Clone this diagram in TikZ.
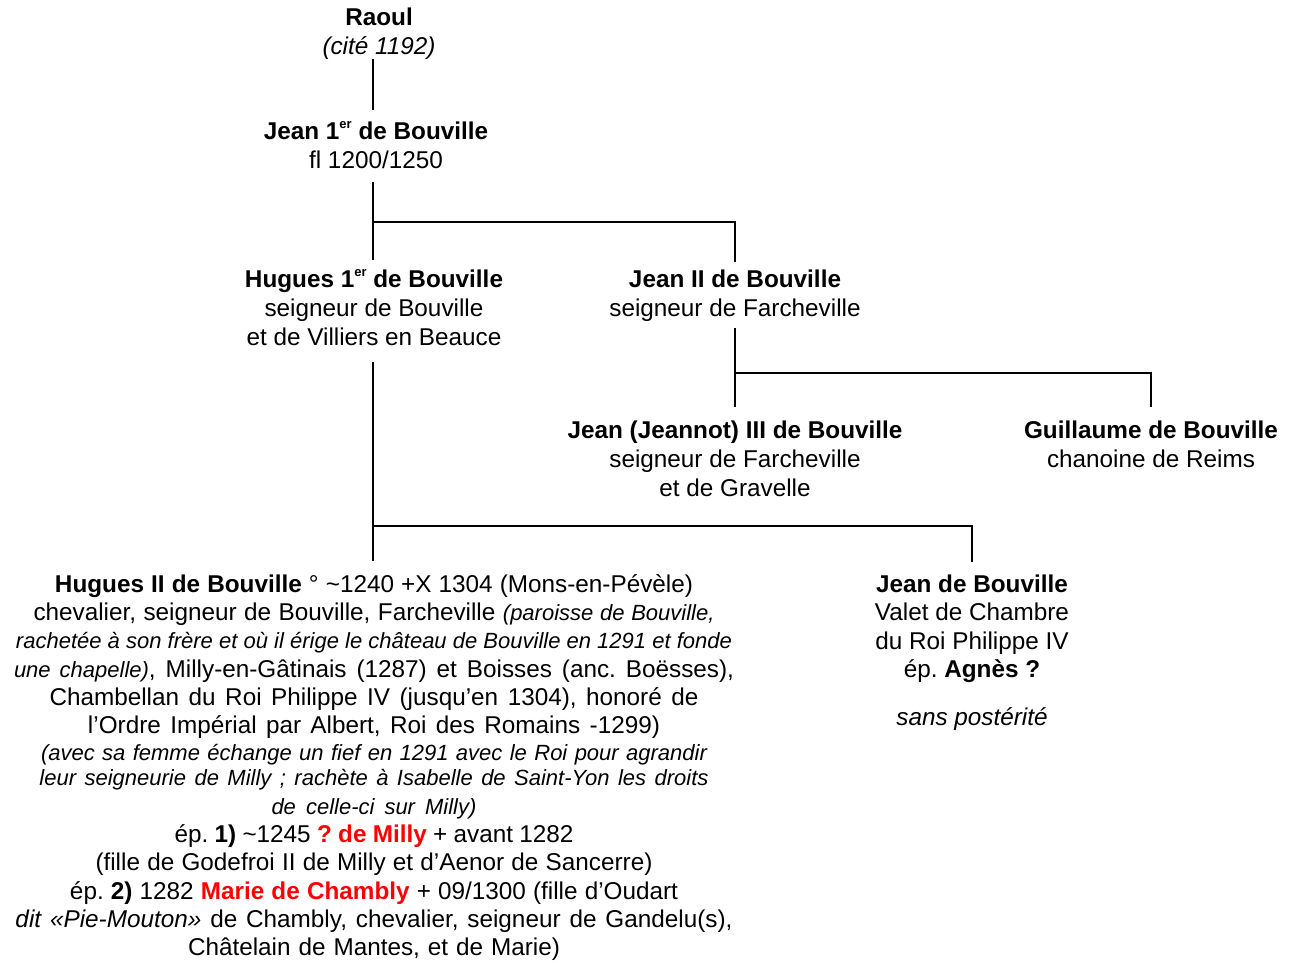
\documentclass[tikz,border=0pt]{standalone}
\usepackage{fontspec}
\setmainfont{Liberation Sans}
\definecolor{nred}{RGB}{255,0,0}
\newcommand{\nfont}{\fontsize{24.3}{29}\selectfont\frenchspacing}
\newcommand{\hfontb}{\fontsize{24.3}{28.35}\selectfont\frenchspacing}
\newcommand{\jfont}{\fontsize{24.3}{28.5}\selectfont\frenchspacing}
\newcommand{\sit}{\fontsize{22}{25}\selectfont\itshape}
\newcommand{\Lj}[2]{\makebox[#1pt][s]{\spaceskip=0pt\xspaceskip=0pt\frenchspacing #2}}
\newcommand{\sups}[1]{\raisebox{10.3pt}{\fontsize{13}{13}\selectfont #1}}
\tikzset{
  person/.style={align=flush center, inner sep=0pt, outer sep=0pt, anchor=base, font=\nfont, text width=#1},
  person/.default=420pt,
  conn/.style={line width=2pt},
}
\begin{document}
\begin{tikzpicture}[x=1pt,y=-1pt]
\useasboundingbox (0,0) rectangle (1300,962);
% nodes
\node[person] (raoul) at (379,25) {\textbf{Raoul}\\\textit{(cité 1192)}};
\node[person] (jean1) at (376,139) {\textbf{Jean 1\sups{er} de Bouville}\\fl 1200/1250};
\node[person] (hugues1) at (374,287) {\textbf{Hugues 1\sups{er} de Bouville}\\seigneur de Bouville\\et de Villiers en Beauce};
\node[person] (jean2) at (735,287) {\textbf{Jean II de Bouville}\\seigneur de Farcheville};
\node[person] (jean3) at (735,438) {\textbf{Jean (Jeannot) III de Bouville}\\seigneur de Farcheville\\et de Gravelle};
\node[person] (guill) at (1151,438) {\textbf{Guillaume de Bouville}\\chanoine de Reims};
\node[person=740pt, font=\hfontb] (hugues2) at (374,592) {%
\Lj{638}{\textbf{Hugues II de Bouville} ° \textasciitilde1240 +X 1304 (Mons-en-Pévèle)}\\
\Lj{681}{chevalier, seigneur de Bouville, Farcheville {\sit (paroisse de Bouville,}}\\
\Lj{716}{\sit rachetée à son frère et où il érige le château de Bouville en 1291 et fonde}\\
\Lj{720}{{\sit une chapelle)}, Milly-en-Gâtinais (1287) et Boisses (anc. Boësses),}\\
\Lj{649}{Chambellan du Roi Philippe IV (jusqu’en 1304), honoré de}\\
\Lj{572}{l’Ordre Impérial par Albert, Roi des Romains -1299)}\\[-1.5pt]
\Lj{666}{\sit (avec sa femme échange un fief en 1291 avec le Roi pour agrandir}\\[-3.3pt]
\Lj{669}{\sit leur seigneurie de Milly ; rachète à Isabelle de Saint-Yon les droits}\\
\Lj{205}{\sit de celle-ci sur Milly)}\\
\Lj{399}{ép. \textbf{1)} \textasciitilde1245 \textcolor{nred}{\textbf{? de Milly}} + avant 1282}\\
\Lj{557}{(fille de Godefroi II de Milly et d’Aenor de Sancerre)}\\
\Lj{608}{ép. \textbf{2)} 1282 \textcolor{nred}{\textbf{Marie de Chambly}} + 09/1300 (fille d’Oudart}\\
\Lj{717}{\textit{dit «Pie-Mouton»} de Chambly, chevalier, seigneur de Gandelu(s),}\\
\Lj{372}{Châtelain de Mantes, et de Marie)}};
\node[person, font=\jfont] (jeanb) at (972,592) {\textbf{Jean de Bouville}\\Valet de Chambre\\du Roi Philippe IV\\ép. \textbf{Agnès ?}\\[19.5pt]\textit{sans postérité}};
% branch points
\coordinate (b1) at (373,222);
\coordinate (b2) at (735,373);
\coordinate (b3) at (373,526);
% connectors
\draw[conn, shorten >=11.6pt] (raoul.south -| b1) -- (jean1.north -| b1);
\draw[conn, shorten <=14pt, shorten >=9.6pt] (jean1.south -| b1) -- (hugues1.north -| b1);
\draw[conn, shorten >=7.8pt] (b1) -| (jean2.north);
\draw[conn, shorten <=7pt, shorten >=13.5pt] (jean2.south) -- (jean3.north);
\draw[conn, shorten >=13.8pt] (b2) -| (guill.north);
\draw[conn, shorten <=17pt, shorten >=13pt] (hugues1.south -| b3) -- (hugues2.north -| b3);
\draw[conn, shorten >=12.8pt] (b3) -| (jeanb.north);
\end{tikzpicture}
\end{document}
